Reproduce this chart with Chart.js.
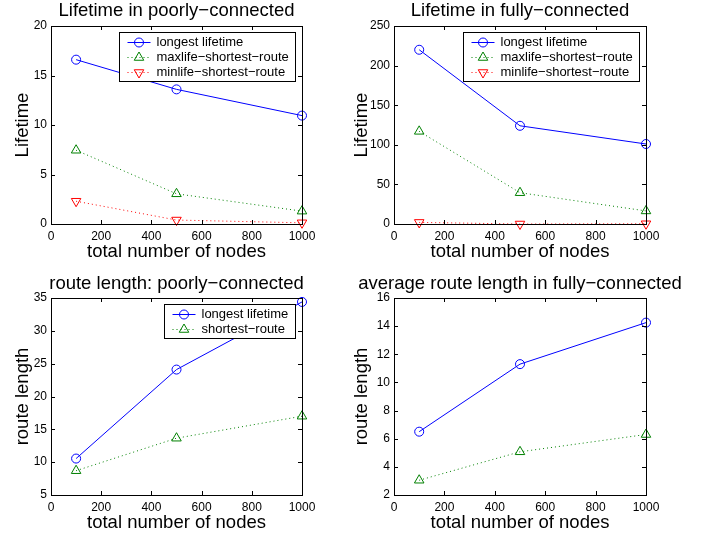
<!DOCTYPE html>
<html>
<head>
<meta charset="utf-8">
<script src="https://cdn.jsdelivr.net/npm/chart.js@4.4.1/dist/chart.umd.min.js"></script>
<style>
  body { margin: 0; background: #fff; width: 717px; height: 538px; overflow: hidden; position: relative; }
  canvas { position: absolute; }
</style>
</head>
<body>
<canvas id="c1" width="358" height="269" style="left:0;top:0"></canvas>
<canvas id="c2" width="378" height="269" style="left:339px;top:0"></canvas>
<canvas id="c3" width="358" height="269" style="left:0;top:269px"></canvas>
<canvas id="c4" width="378" height="269" style="left:339px;top:269px"></canvas>
<script>
// data
const nodes = [100, 500, 1000];

const poorLongest = [16.6, 13.6, 10.95];
const poorMaxlife = [7.45, 3.05, 1.3];
const poorMinlife = [2.3, 0.4, 0.12];

const fullLongest = [220, 124, 101];
const fullMaxlife = [117, 39.5, 16.5];
const fullMinlife = [2, 0, 0.3];

const poorRouteLongest = [10.55, 24.1, 34.4];
const poorRouteShortest = [8.7, 13.65, 17];

const fullRouteLongest = [6.5, 11.3, 14.25];
const fullRouteShortest = [3.05, 5.07, 6.3];

const FONT = '"Liberation Sans", Arial, Helvetica, sans-serif';
Chart.defaults.font.family = FONT;
Chart.defaults.color = '#000';

const BLUE = '#0000ff', GREEN = '#008000', RED = '#ff0000';

const series = (label, data, kind) => {
    const styles = {
        longest: { borderColor: BLUE, pointStyle: 'circle', pointRadius: 4.5, pointRotation: 0, borderDash: [] },
        maxlife: { borderColor: GREEN, pointStyle: 'triangle', pointRadius: 5.5, pointRotation: 0, borderDash: [1, 3] },
        minlife: { borderColor: RED, pointStyle: 'triangle', pointRadius: 5.5, pointRotation: 180, borderDash: [1, 3] }
    }[kind];
    return {
        label,
        data: nodes.map((n, i) => ({ x: n, y: data[i] })),
        borderWidth: 1,
        pointBorderWidth: 1,
        pointBorderColor: styles.borderColor,
        pointBackgroundColor: 'rgba(0,0,0,0)',
        backgroundColor: 'rgba(0,0,0,0)',
        pointHoverRadius: styles.pointRadius,
        tension: 0,
        clip: false,
        ...styles
    };
};

// MATLAB-ish box, inward ticks, title and boxed legend
const matlabAxes = {
    id: 'matlabAxes',
    afterDatasetsDraw(chart, args, opts) {
        const { ctx, chartArea: a, scales: { x, y } } = chart;
        ctx.save();
        ctx.strokeStyle = '#000';
        ctx.lineWidth = 1;
        ctx.setLineDash([]);
        ctx.beginPath();
        x.ticks.forEach(t => {
            const px = Math.round(x.getPixelForValue(t.value)) + 0.5;
            ctx.moveTo(px, a.bottom); ctx.lineTo(px, a.bottom - 4);
            ctx.moveTo(px, a.top); ctx.lineTo(px, a.top + 4);
        });
        y.ticks.forEach(t => {
            const py = Math.round(y.getPixelForValue(t.value)) + 0.5;
            ctx.moveTo(a.left, py); ctx.lineTo(a.left + 4, py);
            ctx.moveTo(a.right, py); ctx.lineTo(a.right - 4, py);
        });
        ctx.stroke();
        ctx.strokeRect(Math.round(a.left) + 0.5, Math.round(a.top) + 0.5, Math.round(a.width), Math.round(a.height));

        // title
        ctx.fillStyle = '#000';
        ctx.font = '18.5px ' + FONT;
        ctx.textAlign = 'center';
        ctx.textBaseline = 'alphabetic';
        ctx.fillText(opts.title, (a.left + a.right) / 2, a.top - opts.titleGap);

        // legend
        if (opts.legend) {
            const items = chart.data.datasets;
            ctx.font = '13px ' + FONT;
            const tw = Math.max(...items.map(d => ctx.measureText(d.label).width));
            const w = Math.round(8 + 23 + 6 + tw + 7);
            const h = 15 * items.length + 4;
            const bx = Math.round(a.right - 7 - w) + 0.5;
            const by = Math.round(a.top + 6) + 0.5;
            ctx.fillStyle = '#fff';
            ctx.fillRect(bx, by, w, h);
            ctx.strokeStyle = '#000';
            ctx.strokeRect(bx, by, w, h);
            items.forEach((d, i) => {
                const cy = by + 10 + 15 * i;
                ctx.strokeStyle = d.borderColor;
                ctx.setLineDash(d.borderDash);
                ctx.beginPath();
                ctx.moveTo(bx + 8, cy); ctx.lineTo(bx + 31, cy);
                ctx.stroke();
                ctx.setLineDash([]);
                ctx.fillStyle = 'rgba(0,0,0,0)';
                Chart.helpers.drawPoint(ctx, {
                    pointStyle: d.pointStyle, rotation: d.pointRotation,
                    radius: d.pointRadius, borderWidth: 1
                }, bx + 19.5, cy);
                ctx.fillStyle = '#000';
                ctx.textAlign = 'left';
                ctx.textBaseline = 'middle';
                ctx.fillText(d.label, bx + 37, cy);
            });
        }
        ctx.restore();
    }
};

function makeChart(id, opt) {
    return new Chart(document.getElementById(id), {
        type: 'line',
        data: { datasets: opt.datasets },
        plugins: [matlabAxes],
        options: {
            responsive: false,
            animation: false,
            events: [],
            layout: { padding: { left: 0, top: opt.top, right: opt.right, bottom: 0 } },
            plugins: {
                legend: { display: false },
                title: { display: false },
                tooltip: { enabled: false },
                matlabAxes: { title: opt.title, titleGap: opt.titleGap, legend: opt.legend }
            },
            scales: {
                x: {
                    type: 'linear', min: 0, max: 1000,
                    grid: { display: false, drawTicks: false },
                    border: { display: false },
                    ticks: { stepSize: 200, padding: 5, maxRotation: 0, autoSkip: false, font: { size: 12 },
                             callback: v => String(v) },
                    title: { display: true, text: 'total number of nodes', font: { size: 18.5 }, padding: opt.xTitlePad },
                    afterFit(s) { s.height = opt.xHeight; s.paddingLeft = 0; s.paddingRight = 0; }
                },
                y: {
                    type: 'linear', min: opt.yMin, max: opt.yMax,
                    grid: { display: false, drawTicks: false },
                    border: { display: false },
                    ticks: { stepSize: opt.yStep, padding: 4, autoSkip: false, font: { size: 12 },
                             callback: v => String(v) },
                    title: { display: true, text: opt.yLabel, font: { size: 18.5 }, padding: 11.4 },
                    afterFit(s) { s.width = opt.yWidth; s.paddingTop = 0; s.paddingBottom = 0; }
                }
            }
        }
    });
}

makeChart('c1', {
    title: 'Lifetime in poorly\u2212connected', titleGap: 10.3, legend: true,
    top: 26, right: 56, yWidth: 51, xHeight: 45, xTitlePad: 5.9,
    yMin: 0, yMax: 20, yStep: 5, yLabel: 'Lifetime',
    datasets: [
        series('longest lifetime', poorLongest, 'longest'),
        series('maxlife\u2212shortest\u2212route', poorMaxlife, 'maxlife'),
        series('minlife\u2212shortest\u2212route', poorMinlife, 'minlife')
    ]
});

makeChart('c2', {
    title: 'Lifetime in fully\u2212connected', titleGap: 10.3, legend: true,
    top: 26, right: 71, yWidth: 55, xHeight: 45, xTitlePad: 5.9,
    yMin: 0, yMax: 250, yStep: 50, yLabel: 'Lifetime',
    datasets: [
        series('longest lifetime', fullLongest, 'longest'),
        series('maxlife\u2212shortest\u2212route', fullMaxlife, 'maxlife'),
        series('minlife\u2212shortest\u2212route', fullMinlife, 'minlife')
    ]
});

makeChart('c3', {
    title: 'route length: poorly\u2212connected', titleGap: 8.7, legend: true,
    top: 29, right: 56, yWidth: 51, xHeight: 43, xTitlePad: 3.9,
    yMin: 5, yMax: 35, yStep: 5, yLabel: 'route length',
    datasets: [
        series('longest lifetime', poorRouteLongest, 'longest'),
        series('shortest\u2212route', poorRouteShortest, 'maxlife')
    ]
});

makeChart('c4', {
    title: 'average route length in fully\u2212connected', titleGap: 8.7, legend: false,
    top: 29, right: 71, yWidth: 55, xHeight: 43, xTitlePad: 3.9,
    yMin: 2, yMax: 16, yStep: 2, yLabel: 'route length',
    datasets: [
        series('longest lifetime', fullRouteLongest, 'longest'),
        series('shortest\u2212route', fullRouteShortest, 'maxlife')
    ]
});
</script>
</body>
</html>
